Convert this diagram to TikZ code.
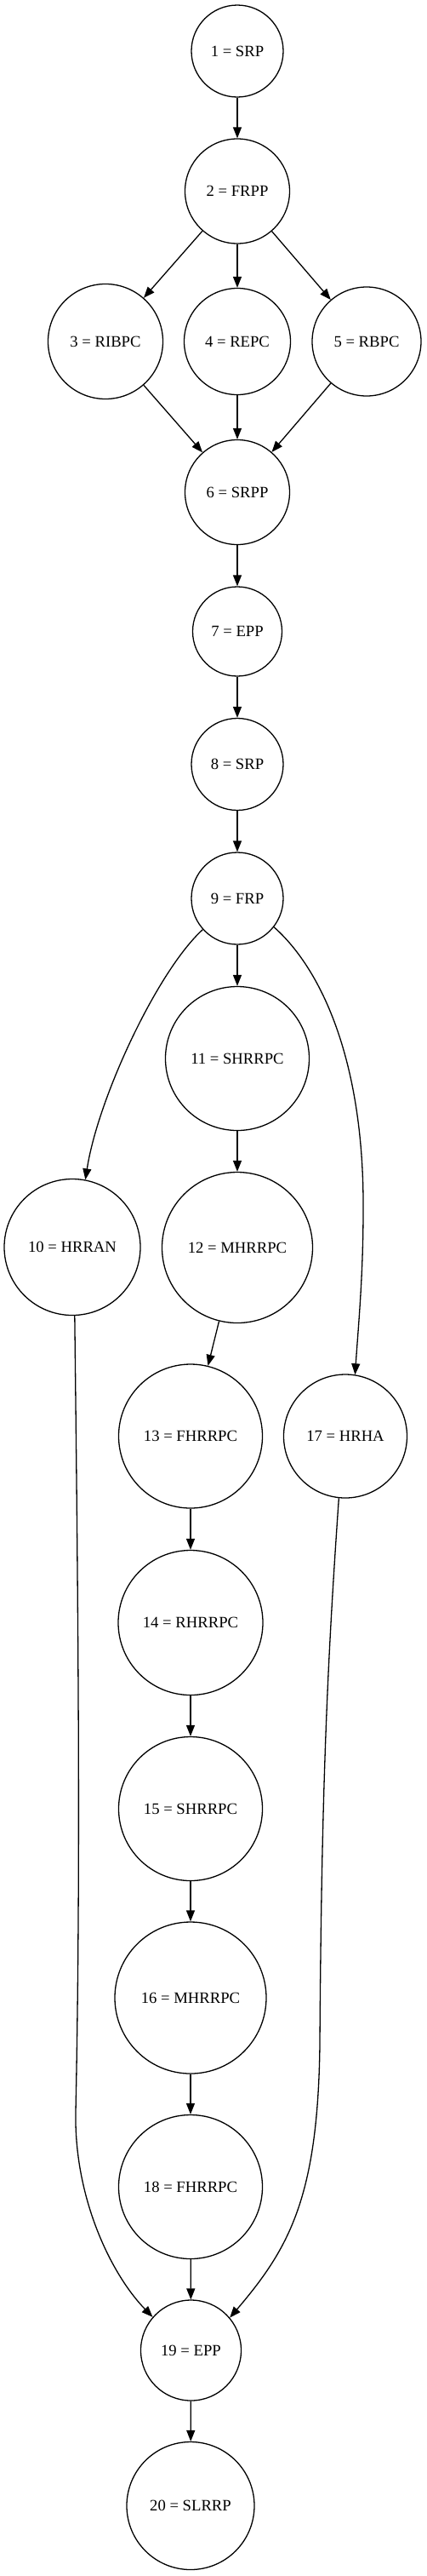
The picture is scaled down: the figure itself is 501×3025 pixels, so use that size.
\documentclass[tikz,border=0pt]{standalone}
\usepackage{fontspec}
\setmainfont{Liberation Serif}
\usetikzlibrary{arrows.meta}
\begin{document}
\begin{tikzpicture}[x=1pt,y=-1pt,
  st/.style={draw,circle,line width=1.3pt,inner sep=0pt,font=\fontsize{18.67}{20}\selectfont},
  ed/.style={line width=1.3pt,-{Triangle[length=13pt,width=10pt]}}]
\useasboundingbox (0,0) rectangle (501,3025);
\node[st,minimum size=108pt] (n1) at (279,60) {1 = SRP};
\node[st,minimum size=123pt] (n2) at (279,224.5) {2 = FRPP};
\node[st,minimum size=135pt] (n3) at (124,401) {3 = RIBPC};
\node[st,minimum size=125pt] (n4) at (279,401) {4 = REPC};
\node[st,minimum size=128pt] (n5) at (431,401) {5 = RBPC};
\node[st,minimum size=123pt] (n6) at (279,578) {6 = SRPP};
\node[st,minimum size=105pt] (n7) at (279,741.5) {7 = EPP};
\node[st,minimum size=108pt] (n8) at (279,897.5) {8 = SRP};
\node[st,minimum size=108pt] (n9) at (279,1055) {9 = FRP};
\node[st,minimum size=169pt] (n11) at (279,1243) {11 = SHRRPC};
\node[st,minimum size=160pt] (n10) at (85,1464.5) {10 = HRRAN};
\node[st,minimum size=177pt] (n12) at (279,1465) {12 = MHRRPC};
\node[st,minimum size=169pt] (n13) at (224,1686.5) {13 = FHRRPC};
\node[st,minimum size=145pt] (n17) at (406,1686.5) {17 = HRHA};
\node[st,minimum size=170pt] (n14) at (224,1905.5) {14 = RHRRPC};
\node[st,minimum size=169pt] (n15) at (224,2124) {15 = SHRRPC};
\node[st,minimum size=178pt] (n16) at (224,2346) {16 = MHRRPC};
\node[st,minimum size=169pt] (n18) at (224,2568) {18 = FHRRPC};
\node[st,minimum size=118pt] (n19) at (224.5,2760) {19 = EPP};
\node[st,minimum size=150pt] (n20) at (224,2942.5) {20 = SLRRP};
\draw[ed] (n1) -- (n2);
\draw[ed] (n2) -- (n3);
\draw[ed] (n2) -- (n4);
\draw[ed] (n2) -- (n5);
\draw[ed] (n3) -- (n6);
\draw[ed] (n4) -- (n6);
\draw[ed] (n5) -- (n6);
\draw[ed] (n6) -- (n7);
\draw[ed] (n7) -- (n8);
\draw[ed] (n8) -- (n9);
\draw[ed] (n9) -- (n11);
\draw[ed] (n11) -- (n12);
\draw[ed] (n12) -- (n13);
\draw[ed] (n13) -- (n14);
\draw[ed] (n14) -- (n15);
\draw[ed] (n15) -- (n16);
\draw[ed] (n16) -- (n18);
\draw[ed] (n18) -- (n19);
\draw[ed] (n19) -- (n20);
\draw[ed] (n9.222) .. controls (185,1140) and (115,1290) .. (n10.79);
\draw[ed] (n9.-38) .. controls (380,1140) and (428,1250) .. (427,1420) .. controls (427,1500) and (421,1560) .. (n17.81);
\draw[ed] (n10.-88) .. controls (92,1900) and (95,2200) .. (89,2480) .. controls (87,2580) and (130,2670) .. (n19.139);
\draw[ed] (n17.-96) .. controls (385,1950) and (378,2100) .. (376,2400) .. controls (374,2580) and (340,2640) .. (n19.40);
\end{tikzpicture}
\end{document}
